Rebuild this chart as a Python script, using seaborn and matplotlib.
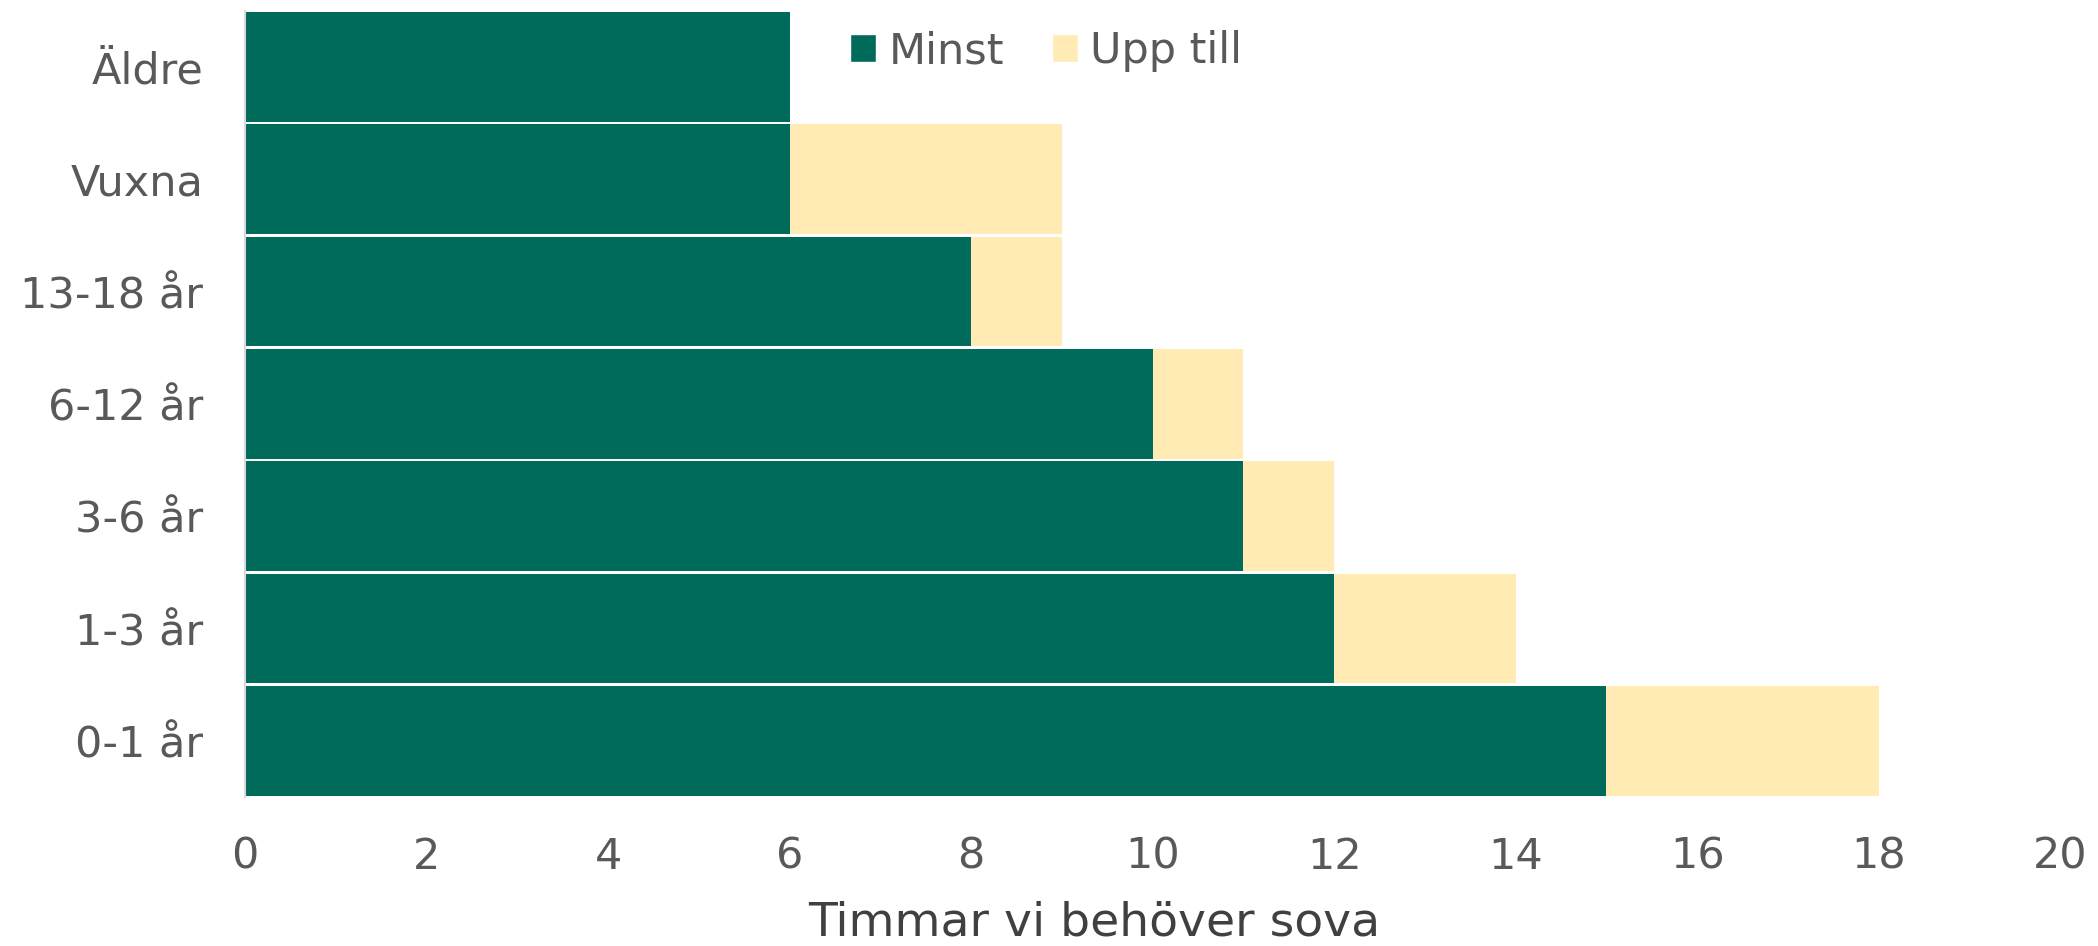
import pandas as pd
import seaborn as sns
import matplotlib.pyplot as plt
from matplotlib.patches import Patch

# Sömnbehov per åldersgrupp (timmar)
groups = ['Äldre', 'Vuxna', '13-18 år', '6-12 år', '3-6 år', '1-3 år', '0-1 år']
minst = [6, 6, 8, 10, 11, 12, 15]
upp_till = [6, 9, 9, 11, 12, 14, 18]
series_names = ['Minst', 'Upp till']

green = '#006A5B'
yellow = '#FFEBB3'
grey_text = '#595959'

df = pd.DataFrame({'grupp': groups, 'minst': minst, 'upp_till': upp_till})

sns.set_style('white')
plt.rcParams['font.family'] = ['DejaVu Sans']

fig = plt.figure(figsize=(20.98, 9.46), dpi=100)
ax = fig.add_axes([0.1168, 0.1575, 0.982 - 0.1168, 0.9887 - 0.1575])

# total (upp till) first, then the minimum on top
sns.barplot(data=df, y='grupp', x='upp_till', order=groups, color=yellow,
            width=0.975, saturation=1, linewidth=0, ax=ax)
sns.barplot(data=df, y='grupp', x='minst', order=groups, color=green,
            width=0.975, saturation=1, linewidth=0, ax=ax)

ax.set_xlim(0, 20)
ax.set_ylim(len(groups) - 0.5, -0.5)
ax.set_xticks(range(0, 21, 2))
ax.set_ylabel('')
ax.set_xlabel('Timmar vi behöver sova', fontsize=34, color='#404040')
ax.xaxis.set_label_coords(0.468, -0.160)
ax.xaxis.label.set_va('center')

ax.tick_params(axis='x', length=0, pad=28, labelsize=31, labelcolor=grey_text)
ax.tick_params(axis='y', which='major', length=0, pad=30, labelsize=31, labelcolor=grey_text)
ax.set_yticks([i - 0.5 for i in range(len(groups) + 1)], minor=True)
ax.tick_params(axis='y', which='minor', length=10, width=1.5, color='#D9D9D9')

for side in ['top', 'right', 'bottom']:
    ax.spines[side].set_visible(False)
ax.spines['left'].set_color('#D9D9D9')
ax.spines['left'].set_linewidth(1.5)

handles = [Patch(facecolor=green, label=series_names[0]),
           Patch(facecolor=yellow, label=series_names[1])]
fig.legend(handles=handles, loc='center left', bbox_to_anchor=(0.397, 0.946),
           ncol=2, frameon=False, fontsize=31, labelcolor=grey_text,
           handlelength=0.6, handleheight=0.6, handletextpad=0.3,
           columnspacing=1.1, borderaxespad=0)

fig.savefig('out.png', dpi=100)
